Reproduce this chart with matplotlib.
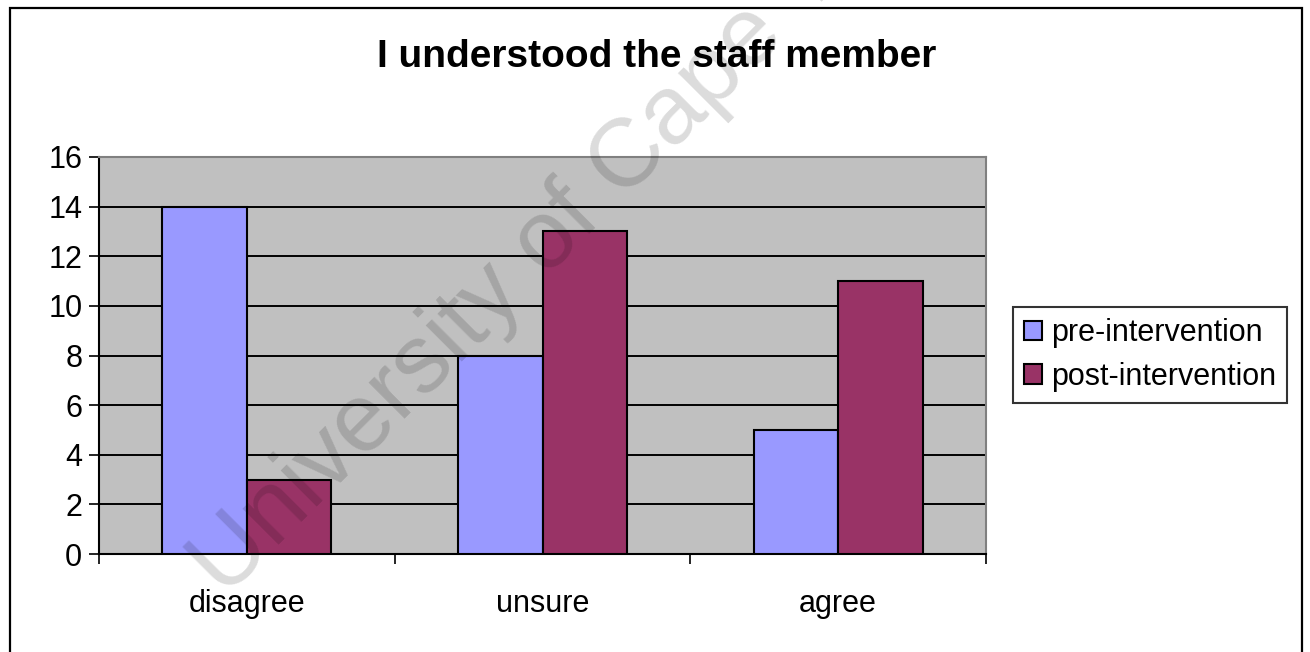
import matplotlib.pyplot as plt
import matplotlib.patches as mpatches
import numpy as np

categories = ["disagree", "unsure", "agree"]
pre_values = [14, 8, 5]
post_values = [3, 13, 11]
series_names = ["pre-intervention", "post-intervention"]
y_ticks = [0, 2, 4, 6, 8, 10, 12, 14, 16]

plt.rcParams['font.family'] = ['Liberation Sans', 'DejaVu Sans']

fig = plt.figure(figsize=(13.1, 6.52), dpi=100)
fig.patch.set_facecolor('white')

# outer chart frame
fig.patches.append(mpatches.Rectangle((10 / 1310, -0.05), 1292 / 1310, 0.05 + 644 / 652,
                                      transform=fig.transFigure, fill=False,
                                      edgecolor='black', linewidth=1.6, zorder=0))

ax = fig.add_axes([99 / 1310, 98 / 652, 887 / 1310, 397 / 652])
ax.set_facecolor('#C0C0C0')

x = np.arange(len(categories))
width = 1 / 3.5
ax.bar(x - width / 2, pre_values, width, color='#9999FF', edgecolor='black',
       linewidth=1.5, label=series_names[0], zorder=3)
ax.bar(x + width / 2, post_values, width, color='#993366', edgecolor='black',
       linewidth=1.5, label=series_names[1], zorder=3)

ax.set_xlim(-0.5, len(categories) - 0.5)
ax.set_ylim(0, 16)
ax.set_yticks(y_ticks)
ax.set_yticklabels([str(v) for v in y_ticks], fontsize=22)
ax.tick_params(axis='y', direction='out', length=7, width=1.2, pad=5)

# category labels centred, tick marks on the category boundaries
ax.set_xticks(x)
ax.set_xticklabels(categories, fontsize=22)
ax.tick_params(axis='x', which='major', length=0, pad=25)
ax.set_xticks(np.arange(-0.5, len(categories)), minor=True)
ax.tick_params(axis='x', which='minor', direction='out', length=7, width=1.2)

for v in y_ticks[1:-1]:
    ax.axhline(v, color='black', linewidth=1.4, zorder=1)

ax.spines['left'].set_linewidth(1.5)
ax.spines['bottom'].set_linewidth(1.5)
ax.spines['top'].set_color('#808080')
ax.spines['right'].set_color('#808080')
ax.spines['top'].set_linewidth(1.5)
ax.spines['right'].set_linewidth(1.5)

fig.text(657 / 1310, 595 / 652, "I understood the staff member", fontsize=28,
         fontweight='bold', ha='center', va='center')

leg = ax.legend(loc='center left', bbox_to_anchor=(1013 / 1310, 297 / 652),
                bbox_transform=fig.transFigure, fontsize=22, frameon=True,
                fancybox=False, edgecolor='black', handlelength=0.6,
                handleheight=0.6, handletextpad=0.3, borderpad=0.35,
                labelspacing=0.45, borderaxespad=0)
leg.get_frame().set_linewidth(1.5)

# faint diagonal watermark
fig.text(577 / 1310, 441 / 652, "University of Cape Town", fontsize=70,
         color='black', alpha=0.14, rotation=45, ha='center', va='center',
         rotation_mode='anchor', zorder=10)

fig.savefig("out.png", dpi=100)
